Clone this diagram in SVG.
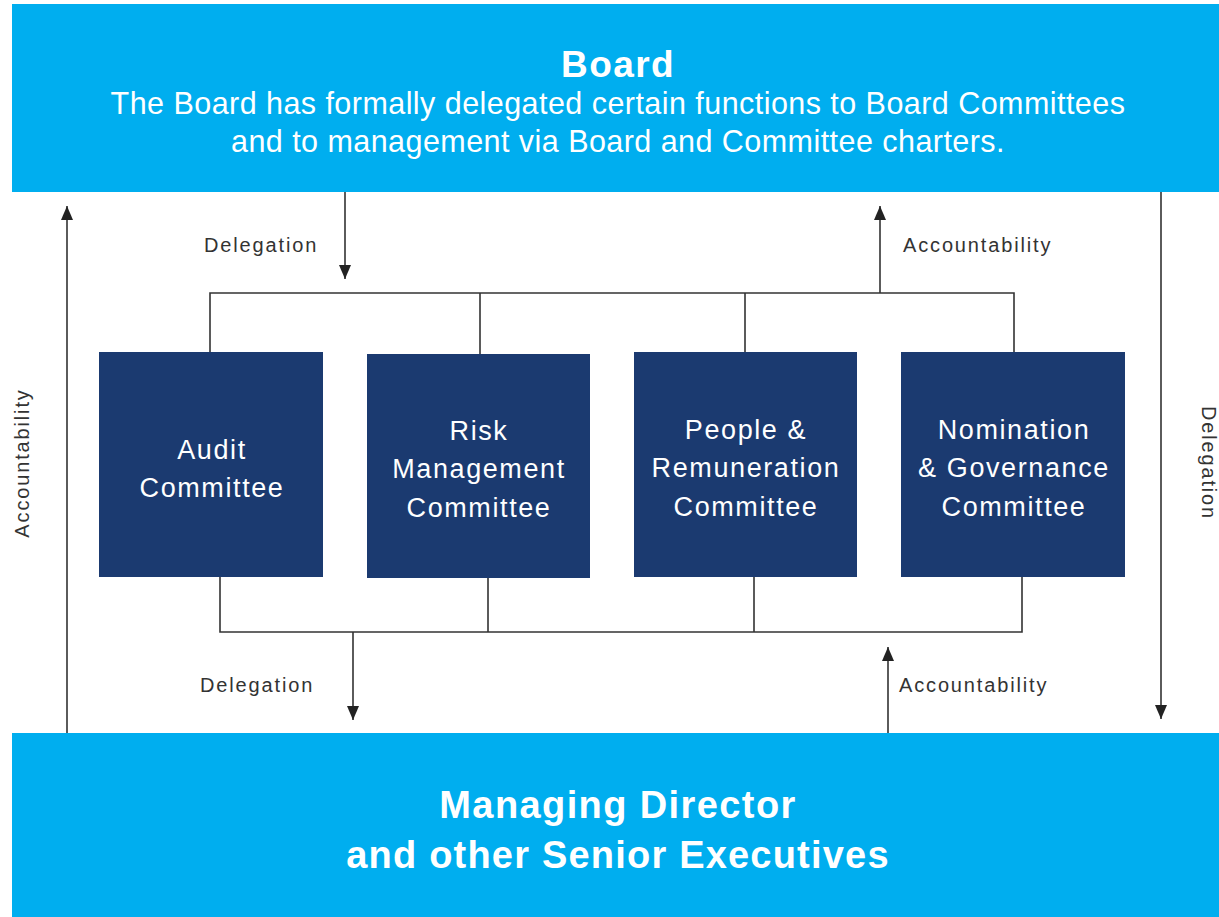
<svg xmlns="http://www.w3.org/2000/svg" width="1219" height="917" viewBox="0 0 1219 917">
<style>
.band{fill:#00AEEF}
.box{fill:#1B3A70}
.ln{stroke:#333;stroke-width:1.6;fill:none}
.lbl{font-family:"Liberation Sans",Arial,sans-serif;font-size:20px;letter-spacing:1.85px;fill:#333}
.bt{font-family:"Liberation Sans",Arial,sans-serif;font-size:27px;letter-spacing:1.6px;fill:#fff;text-anchor:middle}
.hd{font-family:"Liberation Sans",Arial,sans-serif;fill:#fff;text-anchor:middle}
</style>
<defs>
<marker id="ahb" viewBox="0 0 14 12" refX="14" refY="6" markerWidth="14" markerHeight="12" markerUnits="userSpaceOnUse" orient="auto">
<path d="M0,0 L14,6 L0,12 z" fill="#222"/>
</marker>
</defs>
<rect width="1219" height="917" fill="#fff"/>
<g id="board">
<rect class="band" x="12" y="4" width="1207" height="188"/>
<text class="hd" x="618" y="77" font-size="37" font-weight="bold" letter-spacing="1.4">Board</text>
<text class="hd" x="618" y="114" font-size="30.5" letter-spacing="0.45">The Board has formally delegated certain functions to Board Committees</text>
<text class="hd" x="618" y="152" font-size="30.5" letter-spacing="0.45">and to management via Board and Committee charters.</text>
</g>
<g id="executives">
<rect class="band" x="12" y="733" width="1207" height="184"/>
<text class="hd" x="618" y="818" font-size="38" font-weight="bold" letter-spacing="1.4">Managing Director</text>
<text class="hd" x="618" y="868" font-size="38" font-weight="bold" letter-spacing="1.2">and other Senior Executives</text>
</g>
<g id="audit">
<rect class="box" x="99" y="352" width="224" height="225"/>
<text class="bt" x="212" y="459">Audit</text>
<text class="bt" x="212" y="497">Committee</text>
</g>
<g id="risk">
<rect class="box" x="367" y="354" width="223" height="224"/>
<text class="bt" x="479" y="440">Risk</text>
<text class="bt" x="479" y="478">Management</text>
<text class="bt" x="479" y="517">Committee</text>
</g>
<g id="people">
<rect class="box" x="634" y="352" width="223" height="225"/>
<text class="bt" x="746" y="439">People &amp;</text>
<text class="bt" x="746" y="477">Remuneration</text>
<text class="bt" x="746" y="516">Committee</text>
</g>
<g id="nomination">
<rect class="box" x="901" y="352" width="224" height="225"/>
<text class="bt" x="1014" y="439">Nomination</text>
<text class="bt" x="1014" y="477">&amp; Governance</text>
<text class="bt" x="1014" y="516">Committee</text>
</g>
<g id="connectors">
<path class="ln" d="M210,352 V293 H1014 V352 M480,293 V354 M745,293 V352"/>
<path class="ln" d="M220,577 V632 H1022 V577 M488,578 V632 M754,577 V632"/>
<line class="ln" x1="345" y1="192" x2="345" y2="279" marker-end="url(#ahb)"/>
<line class="ln" x1="880" y1="293" x2="880" y2="206" marker-end="url(#ahb)"/>
<line class="ln" x1="353" y1="632" x2="353" y2="720" marker-end="url(#ahb)"/>
<line class="ln" x1="888" y1="733" x2="888" y2="647" marker-end="url(#ahb)"/>
<line class="ln" x1="67" y1="733" x2="67" y2="206" marker-end="url(#ahb)"/>
<line class="ln" x1="1161" y1="192" x2="1161" y2="719" marker-end="url(#ahb)"/>
<text class="lbl" x="204" y="252">Delegation</text>
<text class="lbl" x="903" y="252">Accountability</text>
<text class="lbl" x="200" y="692">Delegation</text>
<text class="lbl" x="899" y="692">Accountability</text>
<text class="lbl" text-anchor="middle" transform="translate(29,463) rotate(-90)">Accountability</text>
<text class="lbl" text-anchor="middle" transform="translate(1202,463) rotate(90)">Delegation</text>
</g>
</svg>
